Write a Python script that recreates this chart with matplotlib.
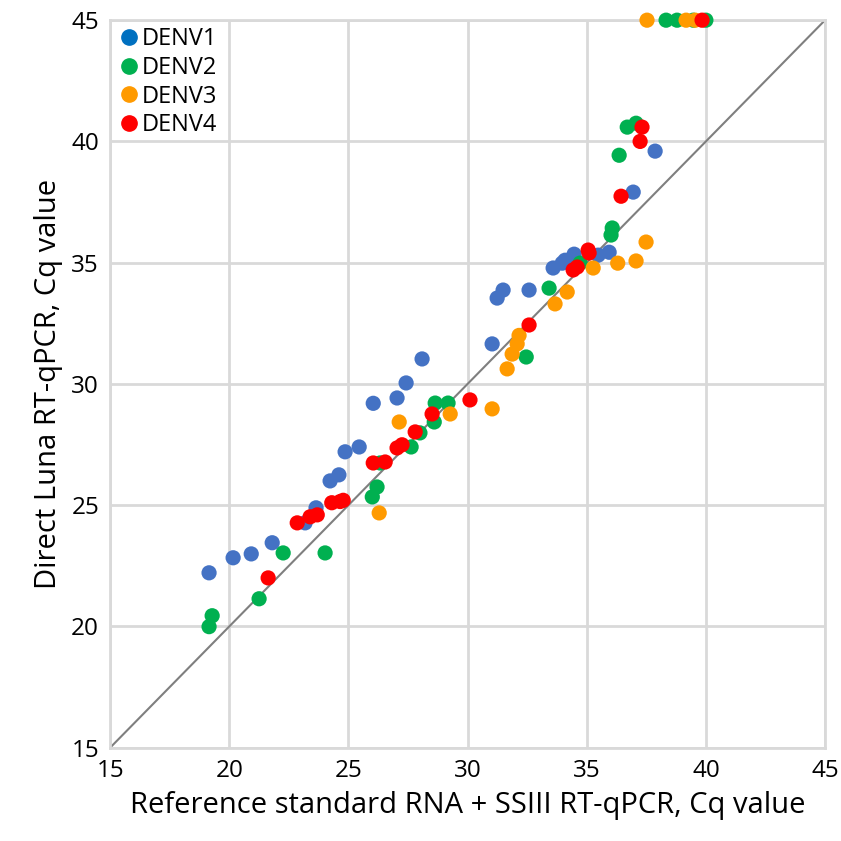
import matplotlib.pyplot as plt
from matplotlib.lines import Line2D

plt.rcParams["font.family"] = ["Open Sans", "DejaVu Sans"]

# --- Data ---
denv1_x = [19.15, 20.16, 20.92, 21.80, 23.18, 23.64, 24.23, 24.60, 24.86, 25.45,
           26.04, 27.04, 27.42, 28.09, 31.03, 31.24, 31.49, 32.58, 33.59, 33.97,
           34.09, 34.47, 35.48, 35.94, 36.95, 37.87]
denv1_y = [22.21, 22.83, 22.99, 23.45, 24.27, 24.89, 26.00, 26.25, 27.20, 27.40,
           29.20, 29.42, 30.04, 31.03, 31.65, 33.54, 33.87, 33.87, 34.78, 34.98,
           35.10, 35.35, 35.31, 35.43, 37.91, 39.60]

denv2_x = [19.15, 19.28, 21.25, 22.26, 24.02, 26.00, 26.20, 26.33, 27.63, 28.00,
           28.60, 28.64, 29.18, 32.46, 33.42, 34.72, 36.07, 36.02, 36.36, 36.70,
           37.07, 38.33, 38.79, 39.47, 40.00]
denv2_y = [19.99, 20.44, 21.14, 23.03, 23.03, 25.34, 25.75, 26.74, 27.40, 27.98,
           28.43, 29.21, 29.21, 31.11, 33.95, 34.98, 36.43, 36.14, 39.43, 40.59,
           40.75, 45.0, 45.0, 45.0, 45.0]

denv3_x = [26.29, 27.13, 29.27, 31.03, 31.66, 31.87, 32.08, 32.16, 33.67, 34.18,
           35.27, 36.30, 37.07, 37.49, 37.53, 39.17, 39.55]
denv3_y = [24.68, 28.43, 28.76, 28.97, 30.62, 31.23, 31.65, 32.00, 33.30, 33.79,
           34.78, 34.98, 35.07, 35.85, 45.0, 45.0, 45.0]

denv4_x = [21.63, 22.85, 23.39, 23.69, 24.30, 24.65, 24.78, 26.04, 26.54, 27.04,
           27.25, 27.80, 28.51, 30.10, 32.58, 34.43, 34.60, 35.06, 35.10, 36.44,
           37.24, 37.32, 39.84]
denv4_y = [22.00, 24.27, 24.52, 24.60, 25.10, 25.15, 25.20, 26.74, 26.78, 27.36,
           27.49, 28.02, 28.76, 29.34, 32.43, 34.70, 34.82, 35.52, 35.40, 37.74,
           40.00, 40.59, 45.0]

series = [
    ("DENV1", denv1_x, denv1_y, "#4472C4", "#0070C0"),
    ("DENV2", denv2_x, denv2_y, "#00B050", "#00B050"),
    ("DENV3", denv3_x, denv3_y, "#FF9A00", "#FF9A00"),
    ("DENV4", denv4_x, denv4_y, "#FF0000", "#FF0000"),
]

fig = plt.figure(figsize=(8.41, 8.41), dpi=100)
ax = fig.add_axes([0.131, 0.111, 0.850, 0.865])

# diagonal identity line
ax.plot([15, 45], [15, 45], color="#7F7F7F", lw=1.5, zorder=2)

for name, xs, ys, c, _ in series:
    ax.scatter(xs, ys, s=120, color=c, edgecolors="none", zorder=3, clip_on=False)

ax.set_xlim(15, 45)
ax.set_ylim(15, 45)
ax.set_xticks(range(15, 46, 5))
ax.set_yticks(range(15, 46, 5))
ax.grid(True, color="#D9D9D9", lw=2)
ax.set_axisbelow(True)
for s in ax.spines.values():
    s.set_color("#D9D9D9")
    s.set_linewidth(2)
ax.tick_params(length=0, labelsize=17.5, pad=8)

ax.set_xlabel("Reference standard RNA + SSIII RT-qPCR, Cq value", fontsize=21, labelpad=6)
ax.set_ylabel("Direct Luna RT-qPCR, Cq value", fontsize=21, labelpad=6)

handles = [Line2D([], [], marker="o", ls="none", color=lc, markersize=11, label=n)
           for n, _, _, _, lc in series]
ax.legend(handles=handles, loc="upper left", frameon=False, fontsize=17,
          handletextpad=0.05, labelspacing=0.2, borderaxespad=0.1,
          handlelength=1.0, borderpad=0.2)

fig.savefig("out.png", dpi=100)
